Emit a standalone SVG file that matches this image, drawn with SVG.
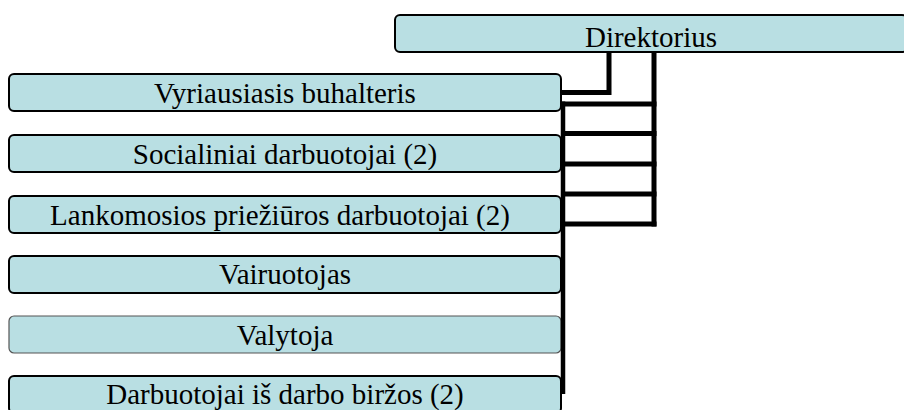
<svg xmlns="http://www.w3.org/2000/svg" width="904" height="410" viewBox="0 0 904 410">
<style>
.box{fill:#b9dfe3;stroke:#000;stroke-width:2}
.box.light{stroke:#555;stroke-width:1.2}
.lbl{font-family:'Liberation Serif','Times New Roman',Times,'DejaVu Serif',serif;font-size:29px;fill:#000;text-anchor:middle}
.con{fill:none;stroke:#000;stroke-linecap:butt;stroke-linejoin:miter}
</style>
<rect width="904" height="410" fill="#fff"/>
<g id="n-direktorius">
<rect class="box" x="395" y="15" width="512" height="37" rx="5"/>
<text class="lbl" x="651" y="46.5" font-family="Liberation Serif, serif">Direktorius</text>
</g>
<g id="n-buhalteris">
<rect class="box" x="9" y="74" width="552" height="37" rx="5"/>
<text class="lbl" x="285" y="103.3">Vyriausiasis buhalteris</text>
</g>
<g id="n-socialiniai">
<rect class="box" x="9" y="135" width="552" height="37" rx="5"/>
<text class="lbl" x="285" y="163.5">Socialiniai darbuotojai (2)</text>
</g>
<g id="n-lankomosios">
<rect class="box" x="9" y="196" width="552" height="37" rx="5"/>
<text class="lbl" x="280" y="225">Lankomosios priežiūros darbuotojai (2)</text>
</g>
<g id="n-vairuotojas">
<rect class="box" x="9" y="256" width="552" height="37" rx="5"/>
<text class="lbl" x="285" y="283.5">Vairuotojas</text>
</g>
<g id="n-valytoja">
<rect class="box light" x="9" y="316" width="552" height="37" rx="5"/>
<text class="lbl" x="285" y="345">Valytoja</text>
</g>
<g id="n-darbo-birza">
<rect class="box" x="9" y="376" width="552" height="37" rx="5"/>
<text class="lbl" x="285" y="403.5">Darbuotojai iš darbo biržos (2)</text>
</g>
<g id="connectors">
<path class="con" stroke-width="5" d="M561,92.5 H609 V52"/>
<path class="con" stroke-width="5" d="M654,52 V226.5"/>
<path class="con" stroke-width="5" d="M561,104 H656.5 M561,133.5 H656.5 M561,164 H656.5 M561,194 H656.5 M561,224 H656.5"/>
<path class="con" stroke-width="4.5" d="M563,101.5 V394"/>
</g>
</svg>
